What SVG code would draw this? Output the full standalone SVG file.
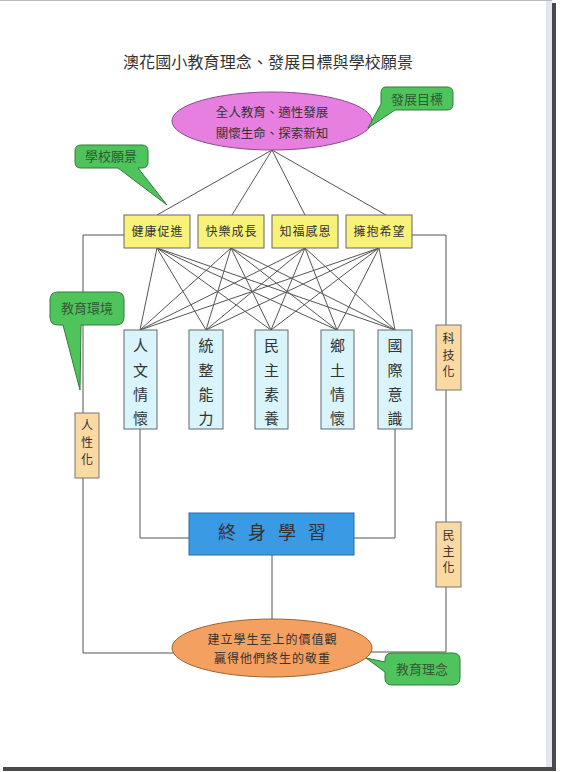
<svg xmlns="http://www.w3.org/2000/svg" width="562" height="772" viewBox="0 0 562 772">
<style>
text{font-family:"Noto Sans CJK TC","Noto Sans CJK SC",sans-serif;fill:#333;}
.ln{stroke:#555;stroke-width:1;fill:none;}
.yb{fill:#f8f27a;stroke:#666;stroke-width:1;}
.bb{fill:#d9f4fb;stroke:#5d6a70;stroke-width:1;}
.ob{fill:#fbd9a2;stroke:#777;stroke-width:1;}
.co{fill:#50c45c;stroke:#2f7a3a;stroke-width:1;}
.cot{font-size:13px;fill:#2f5a34;text-anchor:middle;}
.bt{font-size:12px;text-anchor:middle;letter-spacing:1px;}
.vt{font-size:15px;text-anchor:middle;}
.st{font-size:12px;text-anchor:middle;}
</style>
<rect width="562" height="772" fill="#ffffff"/>
<g id="page">
<rect x="546" y="0" width="6" height="767" fill="#e3e8ef"/>
<rect x="552" y="3" width="4" height="768" fill="#4a4a4a"/>
<rect x="3" y="767" width="553" height="4" fill="#4a4a4a"/>
<line x1="0" y1="0.5" x2="552" y2="0.5" stroke="#bbb"/>
</g>
<text id="title" x="268" y="68" font-size="16" text-anchor="middle" textLength="290">澳花國小教育理念、發展目標與學校願景</text>
<g id="connectors">
<line class="ln" x1="272" y1="150" x2="157" y2="215"/>
<line class="ln" x1="272" y1="150" x2="232" y2="215"/>
<line class="ln" x1="272" y1="150" x2="305" y2="215"/>
<line class="ln" x1="272" y1="150" x2="386" y2="215"/>
<line class="ln" x1="157" y1="248" x2="140" y2="330"/>
<line class="ln" x1="157" y1="248" x2="206" y2="330"/>
<line class="ln" x1="157" y1="248" x2="271" y2="330"/>
<line class="ln" x1="157" y1="248" x2="337" y2="330"/>
<line class="ln" x1="157" y1="248" x2="395" y2="330"/>
<line class="ln" x1="231" y1="248" x2="140" y2="330"/>
<line class="ln" x1="231" y1="248" x2="206" y2="330"/>
<line class="ln" x1="231" y1="248" x2="271" y2="330"/>
<line class="ln" x1="231" y1="248" x2="337" y2="330"/>
<line class="ln" x1="231" y1="248" x2="395" y2="330"/>
<line class="ln" x1="305" y1="248" x2="140" y2="330"/>
<line class="ln" x1="305" y1="248" x2="206" y2="330"/>
<line class="ln" x1="305" y1="248" x2="271" y2="330"/>
<line class="ln" x1="305" y1="248" x2="337" y2="330"/>
<line class="ln" x1="305" y1="248" x2="395" y2="330"/>
<line class="ln" x1="379" y1="248" x2="140" y2="330"/>
<line class="ln" x1="379" y1="248" x2="206" y2="330"/>
<line class="ln" x1="379" y1="248" x2="271" y2="330"/>
<line class="ln" x1="379" y1="248" x2="337" y2="330"/>
<line class="ln" x1="379" y1="248" x2="395" y2="330"/>
<polyline class="ln" points="124,235 83,235 83,653 175,653"/>
<polyline class="ln" points="412,235 446,235 446,652 370,652"/>
<polyline class="ln" points="140,429 140,538 189,538"/>
<polyline class="ln" points="395,429 395,538 354,538"/>
<line class="ln" x1="272" y1="555" x2="272" y2="620"/>
</g>
<g id="goal">
<ellipse cx="272" cy="121" rx="100" ry="29" fill="#e77fe0" stroke="#8a4a88"/>
<text x="272" y="117" font-size="12.5" text-anchor="middle">全人教育、適性發展</text>
<text x="272" y="138" font-size="12.5" text-anchor="middle">關懷生命、探索新知</text>
</g>
<g id="vision-1"><rect class="yb" x="124" y="215" width="66" height="33"/><text class="bt" x="157.5" y="236">健康促進</text></g>
<g id="vision-2"><rect class="yb" x="198" y="215" width="66" height="33"/><text class="bt" x="231.5" y="236">快樂成長</text></g>
<g id="vision-3"><rect class="yb" x="272" y="215" width="66" height="33"/><text class="bt" x="305.5" y="236">知福感恩</text></g>
<g id="vision-4"><rect class="yb" x="346" y="215" width="66" height="33"/><text class="bt" x="379.5" y="236">擁抱希望</text></g>
<g id="core-1"><rect class="bb" x="124" y="330" width="33" height="99"/><text class="vt"><tspan x="140.5" y="351">人</tspan><tspan x="140.5" y="376">文</tspan><tspan x="140.5" y="400">情</tspan><tspan x="140.5" y="424">懷</tspan></text></g>
<g id="core-2"><rect class="bb" x="189" y="330" width="34" height="99"/><text class="vt"><tspan x="206" y="351">統</tspan><tspan x="206" y="376">整</tspan><tspan x="206" y="400">能</tspan><tspan x="206" y="424">力</tspan></text></g>
<g id="core-3"><rect class="bb" x="255" y="330" width="33" height="99"/><text class="vt"><tspan x="271.5" y="351">民</tspan><tspan x="271.5" y="376">主</tspan><tspan x="271.5" y="400">素</tspan><tspan x="271.5" y="424">養</tspan></text></g>
<g id="core-4"><rect class="bb" x="321" y="330" width="33" height="99"/><text class="vt"><tspan x="337.5" y="351">鄉</tspan><tspan x="337.5" y="376">土</tspan><tspan x="337.5" y="400">情</tspan><tspan x="337.5" y="424">懷</tspan></text></g>
<g id="core-5"><rect class="bb" x="378" y="330" width="34" height="99"/><text class="vt"><tspan x="395" y="351">國</tspan><tspan x="395" y="376">際</tspan><tspan x="395" y="400">意</tspan><tspan x="395" y="424">識</tspan></text></g>
<g id="env-humanity"><rect class="ob" x="75" y="413" width="24" height="65"/><text class="st"><tspan x="87" y="430">人</tspan><tspan x="87" y="447">性</tspan><tspan x="87" y="464">化</tspan></text></g>
<g id="env-tech"><rect class="ob" x="436" y="325" width="25" height="65"/><text class="st"><tspan x="448.5" y="343">科</tspan><tspan x="448.5" y="360">技</tspan><tspan x="448.5" y="376">化</tspan></text></g>
<g id="env-democracy"><rect class="ob" x="436" y="522" width="25" height="65"/><text class="st"><tspan x="448.5" y="540">民</tspan><tspan x="448.5" y="556">主</tspan><tspan x="448.5" y="572">化</tspan></text></g>
<g id="lifelong"><rect x="189" y="513" width="165" height="42" fill="#3b9ae4" stroke="#2d6aa0"/><text x="278" y="539" font-size="18" text-anchor="middle" letter-spacing="12" fill="#2b3540">終身學習</text></g>
<g id="philosophy">
<ellipse cx="272" cy="648" rx="100" ry="29" fill="#f3a060" stroke="#a0602a"/>
<text x="272.5" y="644" font-size="12" text-anchor="middle" letter-spacing="1">建立學生至上的價值觀</text>
<text x="272.5" y="663" font-size="12" text-anchor="middle" letter-spacing="1">贏得他們終生的敬重</text>
</g>
<g id="label-goal"><path class="co" d="M386,87 H447 Q453,87 453,93 V104 Q453,110 447,110 H395 L368,128 L381,104 V93 Q381,87 386,87 Z"/><text class="cot" x="417" y="104">發展目標</text></g>
<g id="label-vision"><path class="co" d="M81,145 H142 Q148,145 148,151 V162 Q148,168 142,168 H138 L167,205 L118,168 H81 Q75,168 75,162 V151 Q75,145 81,145 Z"/><text class="cot" x="111" y="161">學校願景</text></g>
<g id="label-env"><path class="co" d="M58,292 H116 Q124,292 124,300 V317 Q124,325 116,325 H81 L80,390 L63,325 H58 Q50,325 50,317 V300 Q50,292 58,292 Z"/><text class="cot" x="87" y="313">教育環境</text></g>
<g id="label-philosophy"><path class="co" d="M392,653 H453 Q460,653 460,660 V678 Q460,685 453,685 H392 Q385,685 385,678 V672 L366,658 L385,662 V660 Q385,653 392,653 Z"/><text class="cot" x="422" y="674">教育理念</text></g>
</svg>
